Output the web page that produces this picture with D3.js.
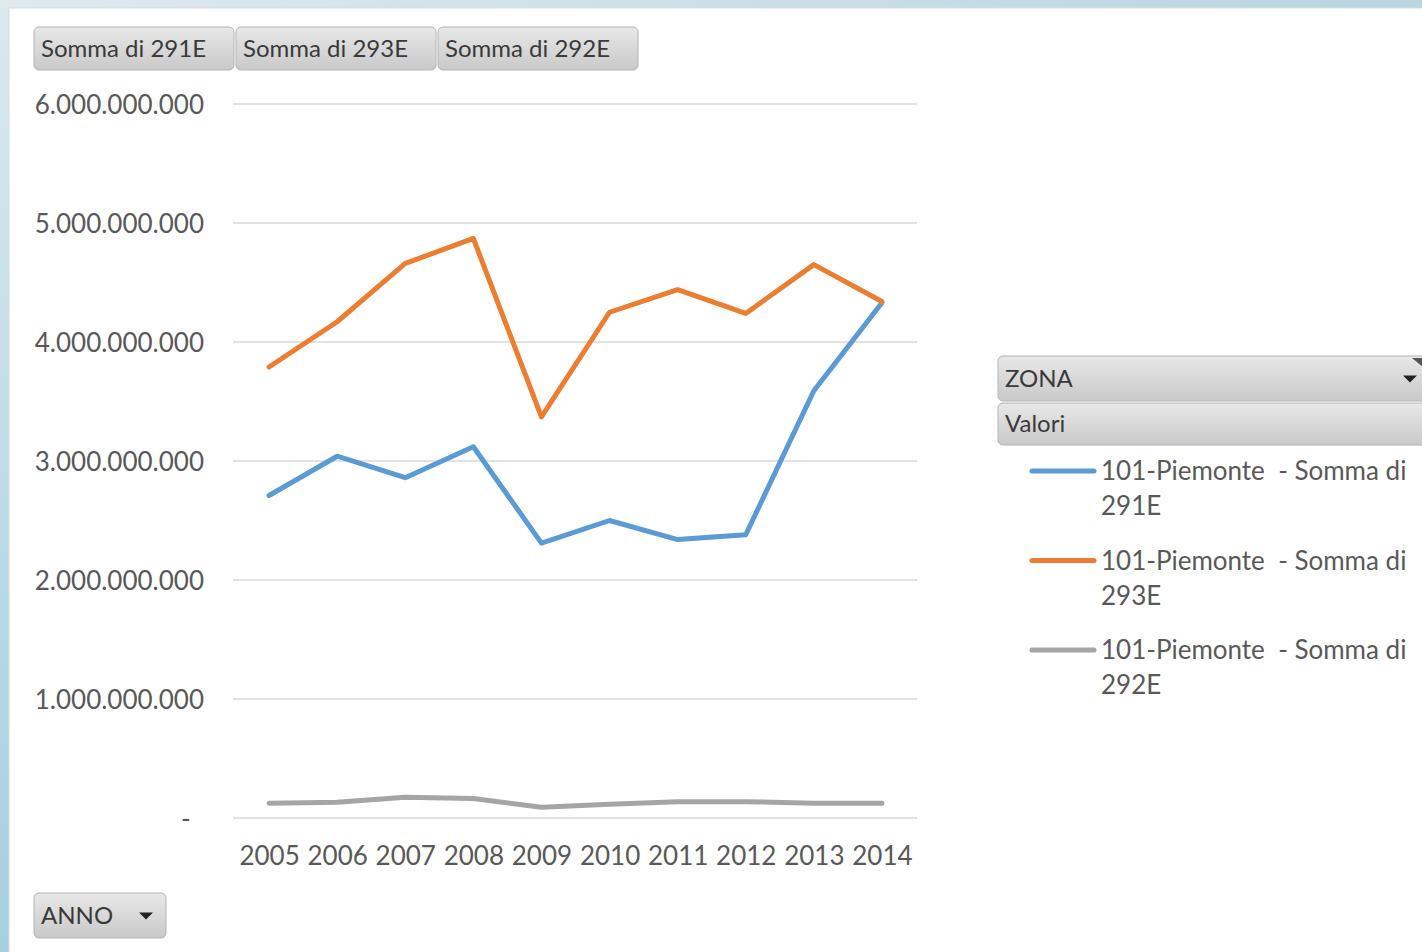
<!DOCTYPE html>
<html>
<head>
<meta charset="utf-8">
<script src="https://cdn.jsdelivr.net/npm/d3@7"></script>
<style>
  body { margin: 0; background: #fff; }
  text { font-family: Lato, "Open Sans", sans-serif; }
</style>
</head>
<body>
<div id="chart"></div>
<script>
// data
var years = ['2005','2006','2007','2008','2009','2010','2011','2012','2013','2014'];
var s291 = [2.71e9, 3.04e9, 2.86e9, 3.12e9, 2.31e9, 2.50e9, 2.34e9, 2.38e9, 3.59e9, 4.33e9];
var s293 = [3.79e9, 4.17e9, 4.66e9, 4.87e9, 3.37e9, 4.25e9, 4.44e9, 4.24e9, 4.65e9, 4.34e9];
var s292 = [0.124e9, 0.132e9, 0.174e9, 0.164e9, 0.090e9, 0.115e9, 0.137e9, 0.137e9, 0.124e9, 0.124e9];
var yTicks = [0, 1e9, 2e9, 3e9, 4e9, 5e9, 6e9];
var seriesNames = ['Somma di 291E', 'Somma di 293E', 'Somma di 292E'];
var legendLabels = ['101-Piemonte  - Somma di', '101-Piemonte  - Somma di', '101-Piemonte  - Somma di'];
var legendLabels2 = ['291E', '293E', '292E'];
var colors = ['#5b9bd5', '#ed7d31', '#a5a5a5'];

var W = 1422, H = 952;
var svg = d3.select('#chart').append('svg')
	.attr('width', W)
	.attr('height', H);

var defs = svg.append('defs');
var bg = defs.append('linearGradient').attr('id', 'bg')
	.attr('x1', 0).attr('y1', 0).attr('x2', 0).attr('y2', 1);
bg.append('stop').attr('offset', '0%').attr('stop-color', '#dbe8ee');
bg.append('stop').attr('offset', '60%').attr('stop-color', '#b9d9e6');
bg.append('stop').attr('offset', '100%').attr('stop-color', '#a6cfe0');

var topg = defs.append('linearGradient').attr('id', 'topg')
	.attr('x1', 0).attr('y1', 0).attr('x2', 1).attr('y2', 0);
topg.append('stop').attr('offset', '0%').attr('stop-color', '#dfe9ee');
topg.append('stop').attr('offset', '100%').attr('stop-color', '#b9d5e1');

var btn = defs.append('linearGradient').attr('id', 'btn')
	.attr('x1', 0).attr('y1', 0).attr('x2', 0).attr('y2', 1);
btn.append('stop').attr('offset', '0%').attr('stop-color', '#e8e8e8');
btn.append('stop').attr('offset', '100%').attr('stop-color', '#c9c9c9');

// window background
svg.append('rect').attr('width', W).attr('height', H).attr('fill', 'url(#bg)');
svg.append('rect').attr('width', W).attr('height', 8).attr('fill', 'url(#topg)');
svg.append('rect')
	.attr('x', 9).attr('y', 8)
	.attr('width', W).attr('height', H)
	.attr('fill', '#fff')
	.attr('stroke', '#d6dde0');

// scales
var x = d3.scalePoint()
	.domain(years)
	.range([235, 916])
	.padding(0.5);

var y = d3.scaleLinear()
	.domain([0, 6e9])
	.range([818, 104]);

// gridlines
svg.append('g').selectAll('line')
	.data(yTicks)
	.enter().append('line')
		.attr('x1', 233)
		.attr('x2', 917)
		.attr('y1', function(d) { return y(d) })
		.attr('y2', function(d) { return y(d) })
		.attr('stroke', '#d9d9d9')
		.attr('stroke-width', 1.5);

// y axis
var fmt = function(d) {
	if (d === 0) return '-\u00a0\u00a0';
	return d3.format(',')(d).replace(/,/g, '.');
};
var yAxis = d3.axisLeft(y)
	.tickValues(yTicks)
	.tickFormat(fmt)
	.tickSize(0)
	.tickPadding(0);
var yG = svg.append('g')
	.attr('transform', 'translate(204,1)')
	.call(yAxis);
yG.select('.domain').remove();
yG.selectAll('text')
	.attr('fill', '#595959')
	.style('font-size', '26px');

// x axis
var xAxis = d3.axisBottom(x)
	.tickSize(0)
	.tickPadding(0);
var xG = svg.append('g')
	.attr('transform', 'translate(0,847)')
	.call(xAxis);
xG.select('.domain').remove();
xG.selectAll('text')
	.attr('fill', '#595959')
	.style('font-size', '26px');

// lines
var line = d3.line()
	.x(function(d, i) { return x(years[i]) })
	.y(function(d) { return y(d) });

var allSeries = [s291, s293, s292];
svg.append('g').selectAll('path')
	.data(allSeries)
	.enter().append('path')
		.attr('d', line)
		.attr('fill', 'none')
		.attr('stroke', function(d, i) { return colors[i] })
		.attr('stroke-width', 5)
		.attr('stroke-linejoin', 'round')
		.attr('stroke-linecap', 'round');

// field buttons
function button(x0, y0, w, h, label, arrow) {
	var g = svg.append('g');
	g.append('rect')
		.attr('x', x0).attr('y', y0)
		.attr('width', w).attr('height', h)
		.attr('rx', 5)
		.attr('fill', 'url(#btn)')
		.attr('stroke', '#b4b4b4');
	g.append('text')
		.attr('x', x0 + 7)
		.attr('y', y0 + h / 2)
		.attr('dy', '0.35em')
		.attr('fill', '#3a3a3a')
		.style('font-size', '24px')
		.text(label);
	if (arrow) {
		g.append('path')
			.attr('d', 'M' + (arrow - 7) + ',' + (y0 + h / 2 - 3) + 'l14,0l-7,7z')
			.attr('fill', '#222');
	}
	return g;
}

var btnX = [34, 236, 438];
seriesNames.forEach(function(n, i) {
	button(btnX[i], 27, 200, 43, n);
});

button(998, 356, 440, 45, 'ZONA', 1410);
svg.append('path').attr('d', 'M1412,358l12,0l0,10z').attr('fill', '#555');
button(998, 403, 440, 42, 'Valori');
button(34, 893, 132, 45, 'ANNO', 146);

// legend
var leg = svg.append('g').selectAll('g')
	.data(colors)
	.enter().append('g')
		.attr('transform', function(d, i) { return 'translate(1032,' + (471 + i * 89.5) + ')' });
leg.append('line')
	.attr('x1', 0).attr('x2', 62)
	.attr('stroke', function(d) { return d })
	.attr('stroke-width', 5)
	.attr('stroke-linecap', 'round');
leg.append('text')
	.attr('x', 69)
	.attr('dy', '0.35em')
	.attr('fill', '#595959')
	.style('font-size', '26px')
	.attr('xml:space', 'preserve')
	.text(function(d, i) { return legendLabels[i] });
leg.append('text')
	.attr('x', 69)
	.attr('y', 35)
	.attr('dy', '0.35em')
	.attr('fill', '#595959')
	.style('font-size', '26px')
	.text(function(d, i) { return legendLabels2[i] });
</script>
</body>
</html>
